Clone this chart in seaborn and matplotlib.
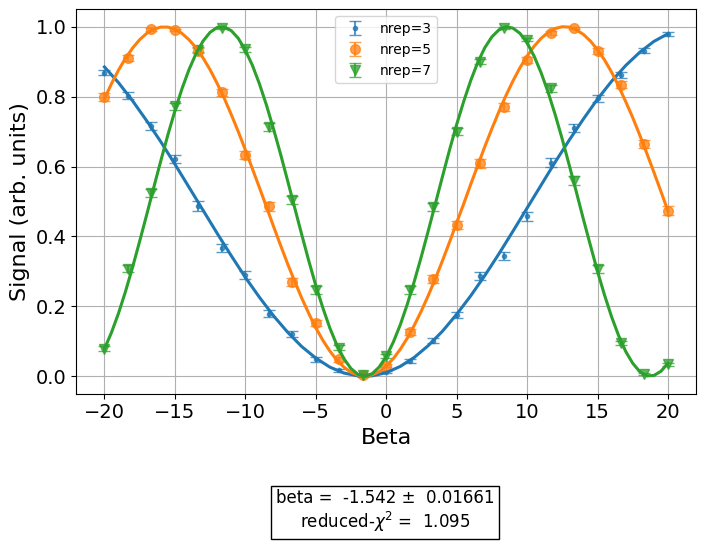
import numpy as np
import pandas as pd
import matplotlib
matplotlib.use("Agg")
import matplotlib.pyplot as plt
import seaborn as sns

# measured points (25 beta settings)
beta = [-20.0, -18.333, -16.667, -15.0, -13.333, -11.667, -10.0, -8.333, -6.667,
        -5.0, -3.333, -1.667, 0.0, 1.667, 3.333, 5.0, 6.667, 8.333, 10.0,
        11.667, 13.333, 15.0, 16.667, 18.333, 20.0]

sig3 = [0.869, 0.802, 0.716, 0.621, 0.487, 0.366, 0.289, 0.178, 0.120, 0.048,
        0.017, 0.003, 0.012, 0.044, 0.101, 0.175, 0.287, 0.344, 0.457, 0.611,
        0.710, 0.796, 0.862, 0.931, 0.979]
err3 = [0.008, 0.010, 0.011, 0.012, 0.013, 0.012, 0.012, 0.010, 0.008, 0.006,
        0.004, 0.003, 0.004, 0.005, 0.007, 0.009, 0.012, 0.012, 0.013, 0.012,
        0.012, 0.010, 0.009, 0.007, 0.005]

sig5 = [0.798, 0.910, 0.993, 0.991, 0.932, 0.813, 0.633, 0.486, 0.269, 0.153,
        0.048, 0.003, 0.030, 0.127, 0.278, 0.433, 0.609, 0.771, 0.905, 0.982,
        0.996, 0.931, 0.834, 0.665, 0.474]
err5 = [0.011, 0.008, 0.004, 0.004, 0.008, 0.010, 0.012, 0.013, 0.011, 0.009,
        0.006, 0.003, 0.005, 0.008, 0.011, 0.012, 0.012, 0.011, 0.008, 0.005,
        0.003, 0.008, 0.010, 0.012, 0.013]

sig7 = [0.078, 0.308, 0.524, 0.772, 0.934, 0.996, 0.936, 0.714, 0.505, 0.246,
        0.082, 0.002, 0.058, 0.246, 0.485, 0.700, 0.900, 0.996, 0.963, 0.824,
        0.560, 0.306, 0.095, 0.006, 0.034]
err7 = [0.007, 0.011, 0.012, 0.011, 0.007, 0.003, 0.007, 0.011, 0.012, 0.011,
        0.007, 0.003, 0.006, 0.011, 0.012, 0.011, 0.008, 0.003, 0.005, 0.010,
        0.012, 0.011, 0.007, 0.003, 0.005]

# fitted curves, read at integer beta -20..20
beta_fit = list(range(-20, 21))
fit3 = [0.885, 0.840, 0.788, 0.731, 0.671, 0.607, 0.541, 0.475, 0.409, 0.345,
        0.283, 0.226, 0.173, 0.126, 0.085, 0.052, 0.026, 0.009, 0.001, 0.001,
        0.010, 0.028, 0.054, 0.088, 0.129, 0.177, 0.230, 0.288, 0.350, 0.415,
        0.481, 0.547, 0.613, 0.676, 0.736, 0.793, 0.844, 0.889, 0.927, 0.958,
        0.980]
fit5 = [0.794, 0.876, 0.939, 0.981, 0.999, 0.993, 0.963, 0.911, 0.838, 0.749,
        0.648, 0.540, 0.429, 0.322, 0.224, 0.139, 0.072, 0.026, 0.003, 0.004,
        0.029, 0.077, 0.146, 0.232, 0.331, 0.439, 0.549, 0.657, 0.757, 0.845,
        0.916, 0.967, 0.995, 0.999, 0.978, 0.934, 0.870, 0.786, 0.690, 0.584,
        0.473]
fit7 = [0.078, 0.180, 0.312, 0.462, 0.616, 0.759, 0.877, 0.959, 0.998, 0.989,
        0.933, 0.837, 0.708, 0.560, 0.406, 0.260, 0.138, 0.050, 0.005, 0.007,
        0.056, 0.147, 0.272, 0.418, 0.572, 0.720, 0.846, 0.940, 0.991, 0.996,
        0.954, 0.868, 0.748, 0.603, 0.449, 0.300, 0.170, 0.071, 0.013, 0.002,
        0.037]

# extra readings of the faster curves at half-integer beta -19.5..19.5
beta_half = [b + 0.5 for b in range(-20, 20)]
fit5_half = [0.837, 0.910, 0.963, 0.993, 0.999, 0.981, 0.940, 0.877, 0.796, 0.700,
             0.594, 0.485, 0.375, 0.272, 0.180, 0.103, 0.046, 0.011, 0.000, 0.013,
             0.050, 0.109, 0.187, 0.280, 0.384, 0.493, 0.603, 0.708, 0.803, 0.883,
             0.944, 0.984, 1.000, 0.991, 0.959, 0.905, 0.830, 0.740, 0.638, 0.529]
fit7_half = [0.125, 0.243, 0.386, 0.540, 0.690, 0.822, 0.923, 0.984, 0.999, 0.967,
             0.890, 0.776, 0.636, 0.483, 0.331, 0.196, 0.089, 0.022, 0.000, 0.026,
             0.097, 0.206, 0.343, 0.495, 0.648, 0.786, 0.898, 0.971, 1.000, 0.981,
             0.916, 0.812, 0.678, 0.527, 0.374, 0.232, 0.116, 0.037, 0.001, 0.014]

nreps = [3, 5, 7]
markers = [".", "o", "v"]
msizes = [6, 7, 6.5]
colors = sns.color_palette("tab10", 3)


def fit_frame(full, half=None):
    df = pd.DataFrame({"beta": beta_fit, "fit": full})
    if half is not None:
        df = pd.concat([df, pd.DataFrame({"beta": beta_half, "fit": half})])
    return df.sort_values("beta")


fig = plt.figure(figsize=(7.06, 5.46), dpi=100)
ax = fig.add_axes([0.108, 0.279, 0.878, 0.704])

signals = [sig3, sig5, sig7]
errors = [err3, err5, err7]
fits = [fit_frame(fit3), fit_frame(fit5, fit5_half), fit_frame(fit7, fit7_half)]

for n, s, e, df, m, ms, c in zip(nreps, signals, errors, fits, markers, msizes, colors):
    ax.errorbar(beta, s, yerr=e, fmt=m, ms=ms, color=c, capsize=4,
                alpha=0.75, label=f"nrep={n}")
    sns.lineplot(data=df, x="beta", y="fit", ax=ax, color=c, lw=2.2,
                 legend=False, sort=True, zorder=3)

ax.set_xlim(-22, 22)
ax.set_ylim(-0.05, 1.05)
ax.set_xticks([-20, -15, -10, -5, 0, 5, 10, 15, 20])
ax.set_yticks([0.0, 0.2, 0.4, 0.6, 0.8, 1.0])
ax.grid(True)
ax.tick_params(labelsize=14)
ax.set_xlabel("Beta", fontsize=16)
ax.set_ylabel("Signal (arb. units)", fontsize=16)
ax.legend(loc="upper center", fontsize=10)

fig.text(0.545, 0.063, "beta =  -1.542 \u00b1  0.01661\nreduced-$\\chi^2$ =  1.095",
         ha="center", va="center", fontsize=12, multialignment="center",
         bbox=dict(boxstyle="square", fc="white", ec="black"))

fig.savefig("out.png", dpi=100)
